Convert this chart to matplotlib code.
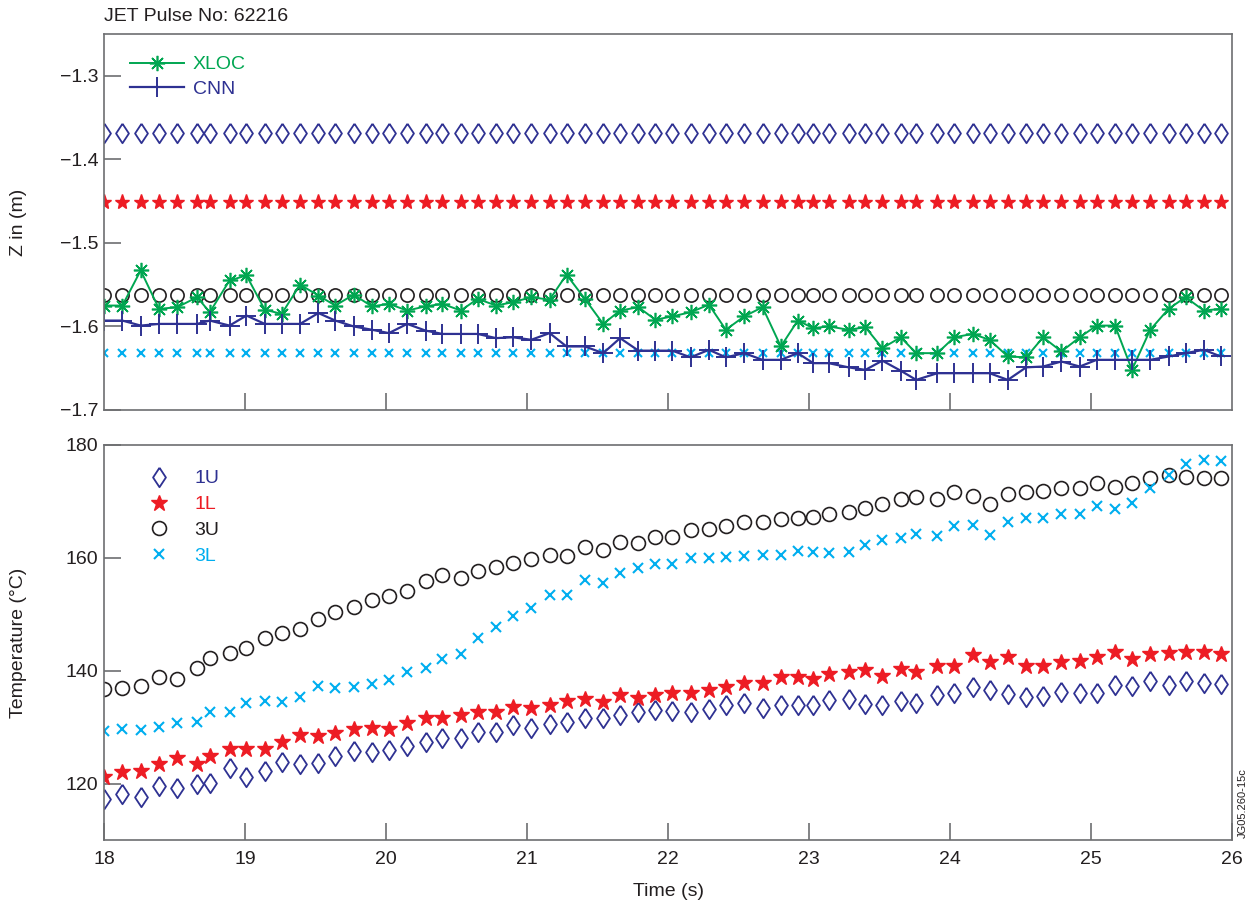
import matplotlib
matplotlib.use('Agg')
import matplotlib.pyplot as plt
import numpy as np

plt.rcParams['font.family'] = ['Liberation Sans', 'DejaVu Sans']

# time base (s)
time = [18.00, 18.13, 18.26, 18.39, 18.52, 18.66, 18.75, 18.89,
        19.01, 19.14, 19.26, 19.39, 19.52, 19.64, 19.77, 19.90,
        20.02, 20.15, 20.28, 20.40, 20.53, 20.65, 20.78, 20.90,
        21.03, 21.16, 21.28, 21.41, 21.54, 21.66, 21.79, 21.91,
        22.03, 22.16, 22.29, 22.41, 22.54, 22.67, 22.80, 22.92,
        23.03, 23.14, 23.28, 23.40, 23.52, 23.65, 23.76, 23.91,
        24.03, 24.16, 24.28, 24.41, 24.54, 24.66, 24.79, 24.92,
        25.04, 25.17, 25.29, 25.42, 25.55, 25.67, 25.80, 25.92]

# vertical position of thermocouples (m)
z_1U = -1.368
z_1L = -1.451
z_3U = -1.562
z_3L = -1.632

xloc = [-1.575, -1.575, -1.533, -1.579, -1.577, -1.565, -1.583, -1.545,
        -1.539, -1.580, -1.585, -1.550, -1.563, -1.575, -1.562, -1.576,
        -1.573, -1.581, -1.576, -1.573, -1.581, -1.567, -1.575, -1.571,
        -1.565, -1.568, -1.538, -1.567, -1.597, -1.581, -1.577, -1.592,
        -1.588, -1.583, -1.574, -1.604, -1.588, -1.577, -1.624, -1.593,
        -1.602, -1.600, -1.604, -1.601, -1.626, -1.613, -1.632, -1.632,
        -1.613, -1.609, -1.616, -1.636, -1.637, -1.613, -1.630, -1.613,
        -1.599, -1.599, -1.652, -1.604, -1.579, -1.565, -1.581, -1.579]

cnn = [-1.593, -1.593, -1.599, -1.597, -1.597, -1.597, -1.593, -1.599,
       -1.587, -1.597, -1.597, -1.597, -1.584, -1.593, -1.600, -1.604,
       -1.608, -1.597, -1.605, -1.609, -1.609, -1.609, -1.614, -1.613,
       -1.616, -1.608, -1.624, -1.624, -1.632, -1.614, -1.629, -1.629,
       -1.629, -1.637, -1.628, -1.637, -1.632, -1.640, -1.640, -1.632,
       -1.644, -1.644, -1.649, -1.652, -1.641, -1.653, -1.664, -1.656,
       -1.656, -1.656, -1.656, -1.664, -1.649, -1.648, -1.642, -1.648,
       -1.640, -1.640, -1.640, -1.640, -1.636, -1.632, -1.628, -1.636]

# temperatures (C)
t_1U = [117.3, 118.2, 117.6, 119.5, 119.2, 119.9, 120.1, 122.8,
        121.1, 122.2, 123.8, 123.5, 123.6, 124.8, 125.8, 125.6,
        125.9, 126.6, 127.4, 128.0, 128.0, 129.2, 129.2, 130.4,
        129.9, 130.5, 130.9, 131.7, 131.6, 132.1, 132.6, 133.0,
        132.9, 132.7, 133.2, 133.9, 134.2, 133.3, 133.9, 133.9,
        133.9, 134.8, 134.9, 134.1, 133.9, 134.7, 134.2, 135.7,
        136.1, 137.1, 136.5, 135.9, 135.3, 135.5, 136.3, 136.1,
        136.0, 137.5, 137.3, 138.1, 137.5, 138.1, 137.8, 137.7]

t_1L = [121.1, 122.0, 122.2, 123.5, 124.6, 123.5, 124.8, 126.2,
        126.2, 126.2, 127.4, 128.6, 128.4, 129.0, 129.6, 129.9,
        129.6, 130.7, 131.7, 131.6, 132.1, 132.7, 132.7, 133.6,
        133.3, 133.9, 134.6, 134.9, 134.5, 135.7, 135.1, 135.7,
        136.0, 136.1, 136.6, 137.1, 137.8, 137.9, 138.9, 138.9,
        138.5, 139.5, 139.7, 140.1, 139.0, 140.3, 139.8, 140.8,
        140.9, 142.7, 141.5, 142.4, 140.8, 140.9, 141.5, 141.7,
        142.4, 143.3, 142.1, 143.0, 143.2, 143.4, 143.4, 143.0]

t_3U = [136.7, 136.9, 137.3, 138.9, 138.6, 140.5, 142.3, 143.2,
        144.0, 145.8, 146.7, 147.4, 149.2, 150.4, 151.2, 152.6,
        153.3, 154.2, 155.9, 157.0, 156.4, 157.6, 158.3, 159.1,
        159.8, 160.5, 160.4, 161.9, 161.3, 162.8, 162.7, 163.7,
        163.7, 164.9, 165.1, 165.7, 166.3, 166.3, 166.8, 167.1,
        167.3, 167.7, 168.2, 168.9, 169.6, 170.5, 170.8, 170.4,
        171.6, 170.9, 169.6, 171.4, 171.6, 171.8, 172.4, 172.3,
        173.2, 172.6, 173.2, 174.2, 174.7, 174.4, 174.2, 174.1]

t_3L = [129.3, 129.6, 129.5, 130.1, 130.8, 130.9, 132.7, 132.6,
        134.2, 134.7, 134.5, 135.4, 137.2, 136.9, 137.1, 137.7,
        138.3, 139.8, 140.4, 142.1, 143.0, 145.8, 147.7, 149.7,
        151.1, 153.4, 153.4, 156.1, 155.5, 157.4, 158.2, 158.9,
        158.9, 159.9, 159.9, 160.1, 160.3, 160.5, 160.5, 161.2,
        161.0, 160.9, 161.1, 162.3, 163.1, 163.5, 164.3, 163.9,
        165.6, 165.9, 164.0, 166.4, 167.0, 167.1, 167.7, 167.7,
        169.1, 168.6, 169.8, 172.4, 174.6, 176.6, 177.4, 177.1]

navy = '#2e3192'
red = '#ed1c24'
black = '#231f20'
cyan = '#00aeef'
green = '#00a651'
grey = '#6d6e71'

# open diamond, a little wider than matplotlib's 'd'
diamond = [(0, 1), (0.66, 0), (0, -1), (-0.66, 0), (0, 1)]

fig = plt.figure(figsize=(12.55, 9.07), dpi=100)
ax1 = fig.add_axes([0.0829, 0.548, 0.8988, 0.4145])
ax2 = fig.add_axes([0.0829, 0.0739, 0.8988, 0.4355])

n = len(time)
ax1.plot(time, np.full(n, z_1U), ls='none', marker=diamond, ms=14, mfc='none', mec=navy, mew=1.3)
ax1.plot(time, np.full(n, z_1L), ls='none', marker='*', ms=11, color=red, mec=red)
ax1.plot(time, np.full(n, z_3U), ls='none', marker='o', ms=9.5, mfc='none', mec=black, mew=1.2)
ax1.plot(time, np.full(n, z_3L), ls='none', marker='x', ms=6, color=cyan, mew=1.5)
ax1.plot(time, xloc, color=green, lw=1.4, marker=(8, 2, 0), ms=11, mew=1.2, label='XLOC')
ax1.plot(time, cnn, color=navy, lw=1.6, marker='+', ms=15, mew=1.4, label='CNN')

ax2.plot(time, t_1U, ls='none', marker=diamond, ms=14, mfc='none', mec=navy, color=navy, mew=1.3, label='1U')
ax2.plot(time, t_1L, ls='none', marker='*', ms=12, color=red, label='1L')
ax2.plot(time, t_3U, ls='none', marker='o', ms=10, mfc='none', mec=black, color=black, mew=1.2, label='3U')
ax2.plot(time, t_3L, ls='none', marker='x', ms=6.5, color=cyan, mew=1.5, label='3L')

ax1.set_xlim(18, 26)
ax1.set_ylim(-1.7, -1.25)
ax1.set_yticks([-1.7, -1.6, -1.5, -1.4, -1.3])
ax1.set_xticks([19, 20, 21, 22, 23, 24, 25])
ax1.set_xticklabels([])

ax2.set_xlim(18, 26)
ax2.set_ylim(110, 180)
ax2.set_yticks([120, 140, 160, 180])
ax2.set_xticks([18, 19, 20, 21, 22, 23, 24, 25, 26])

for ax in (ax1, ax2):
    for s in ax.spines.values():
        s.set_color(grey)
        s.set_linewidth(1.2)
    ax.tick_params(direction='in', length=12, width=1.2, color=grey,
                   labelsize=14, labelcolor=black, pad=4)
ax2.tick_params(axis='x', pad=8)

ax1.set_ylabel('Z in (m)', fontsize=14, color=black)
ax1.yaxis.set_label_coords(-0.068, 0.5)
ax2.set_ylabel('Temperature (°C)', fontsize=14, color=black)
ax2.yaxis.set_label_coords(-0.068, 0.5)
ax2.set_xlabel('Time (s)', fontsize=14, color=black)
ax2.xaxis.set_label_coords(0.5, -0.11)

leg1 = ax1.legend(loc='upper left', bbox_to_anchor=(0.016, 0.963), borderaxespad=0,
                  frameon=False, fontsize=14, handlelength=2.8, handletextpad=0.45,
                  labelspacing=0.36, numpoints=1, labelcolor='linecolor')
leg2 = ax2.legend(loc='upper left', bbox_to_anchor=(0.025, 0.957), borderaxespad=0,
                  frameon=False, fontsize=14, handlelength=2.0, handletextpad=0.8,
                  labelspacing=0.43, numpoints=1, labelcolor='markeredgecolor')

fig.text(104 / 1255, 0.982, 'JET Pulse No: 62216', fontsize=14, color=black, va='center')
fig.text(0.9905, 0.076, 'JG05.260-15c', fontsize=8, color=black, rotation=90,
         ha='center', va='bottom')

fig.savefig('out.png', dpi=100)
